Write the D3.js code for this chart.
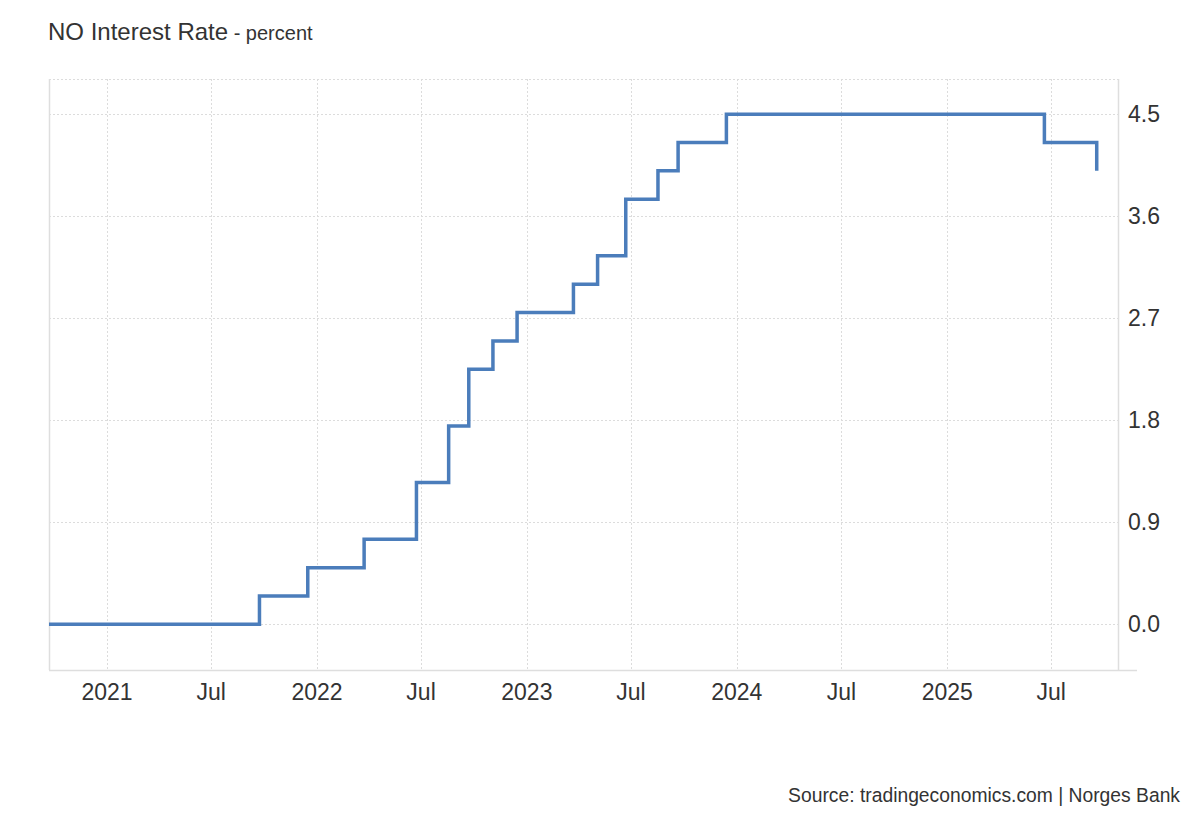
<!DOCTYPE html>
<html><head><meta charset="utf-8">
<script src="https://cdn.jsdelivr.net/npm/d3@7"></script>
<style>body{margin:0;background:#fff;font-family:"Liberation Sans",Arial,sans-serif;}</style>
</head><body><svg id="c" width="1200" height="820"></svg>
<script>
const changeDates = ["2020-09-22","2021-09-23","2021-12-16","2022-03-24","2022-06-23","2022-08-18","2022-09-22","2022-11-03","2022-12-15","2023-03-23","2023-05-04","2023-06-22","2023-08-17","2023-09-21","2023-12-14","2025-06-19","2025-09-18"];
const rates = [0,0.25,0.5,0.75,1.25,1.75,2.25,2.5,2.75,3.0,3.25,3.75,4.0,4.25,4.5,4.25,4.0];
const yTicks = [0,0.9,1.8,2.7,3.6,4.5];
const xTickDates = ["2021-01-01","2021-07-01","2022-01-01","2022-07-01","2023-01-01","2023-07-01","2024-01-01","2024-07-01","2025-01-01","2025-07-01"];
const xTickLabels = ["2021","Jul","2022","Jul","2023","Jul","2024","Jul","2025","Jul"];

const parse = d3.timeParse("%Y-%m-%d");
const data = changeDates.map((d,i)=>({date:parse(d), v:rates[i]}));
const svg = d3.select("#c");
const L=49, R=1118, T=79, B=670;
const x = d3.scaleTime().domain([parse("2020-09-22"), parse("2025-10-25")]).range([L,R]);
const y = d3.scaleLinear().domain([-0.403,4.81]).range([B,T]);

// grid
const g = svg.append("g");
g.selectAll(".hg").data(yTicks.concat([4.81])).enter().append("line")
 .attr("x1",L).attr("x2",R).attr("y1",d=>Math.round(y(d))+0.5).attr("y2",d=>Math.round(y(d))+0.5)
 .attr("stroke","#dcdcdc").attr("stroke-dasharray","2,2");
g.selectAll(".vg").data(xTickDates).enter().append("line")
 .attr("x1",d=>Math.round(x(parse(d)))+0.5).attr("x2",d=>Math.round(x(parse(d)))+0.5).attr("y1",T).attr("y2",B)
 .attr("stroke","#dcdcdc").attr("stroke-dasharray","2,2");
// frame
svg.append("line").attr("x1",L+0.5).attr("x2",L+0.5).attr("y1",T).attr("y2",B).attr("stroke","#dedede").attr("stroke-width",1.5);
svg.append("line").attr("x1",R+0.5).attr("x2",R+0.5).attr("y1",T).attr("y2",B).attr("stroke","#dedede").attr("stroke-width",1.5);
svg.append("line").attr("x1",L).attr("x2",1137).attr("y1",B+0.5).attr("y2",B+0.5).attr("stroke","#dedede").attr("stroke-width",1.5);

// y labels
svg.append("g").selectAll("text").data(yTicks).enter().append("text")
 .attr("x",1128).attr("y",d=>y(d)+8).attr("font-size",23).attr("fill","#333")
 .text(d=>d.toFixed(1));
// x labels
svg.append("g").selectAll("text").data(xTickDates).enter().append("text")
 .attr("x",d=>x(parse(d))).attr("y",700).attr("text-anchor","middle").attr("font-size",23).attr("fill","#333")
 .text((d,i)=>xTickLabels[i]);

// line
const line = d3.line().x(d=>x(d.date)).y(d=>y(d.v)).curve(d3.curveStepAfter);
svg.append("path").datum(data).attr("d",line).attr("fill","none").attr("stroke","#4b7dbb").attr("stroke-width",3.5).attr("stroke-linejoin","miter");

// title
const t = svg.append("text").attr("x",48).attr("y",40).attr("fill","#333");
t.append("tspan").attr("font-size",24).text("NO Interest Rate");
t.append("tspan").attr("font-size",20).text(" - percent");
svg.append("text").attr("x",1180).attr("y",802).attr("text-anchor","end").attr("font-size",19.3).attr("fill","#333")
 .text("Source: tradingeconomics.com | Norges Bank");
</script></body></html>
